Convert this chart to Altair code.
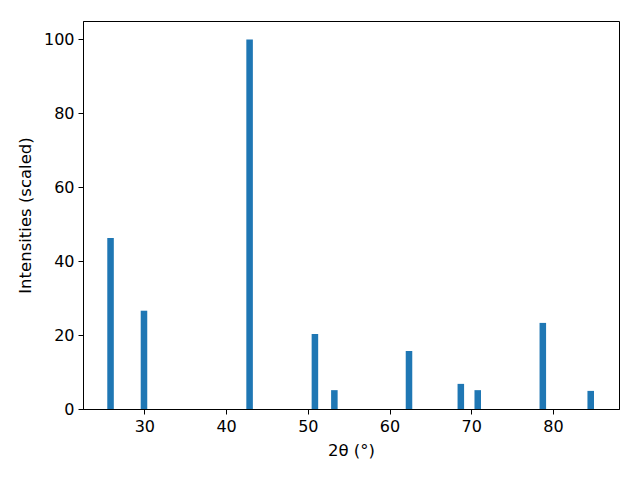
import altair as alt
import pandas as pd

two_theta = [25.87, 29.96, 42.88, 50.87, 53.25, 62.38, 68.72, 70.79, 78.75, 84.61]
intensity = [46.3, 26.6, 100.0, 20.3, 5.1, 15.7, 6.8, 5.1, 23.3, 4.9]

df = pd.DataFrame({"two_theta": two_theta, "intensity": intensity})

font = "DejaVu Sans"

chart = (
    alt.Chart(df)
    .transform_calculate(lo="datum.two_theta - 0.4", hi="datum.two_theta + 0.4")
    .mark_rect(color="#1f77b4")
    .encode(
        x=alt.X(
            "lo:Q",
            scale=alt.Scale(domain=[22.5, 88.07], nice=False, zero=False),
            axis=alt.Axis(title="2θ (°)", values=[30, 40, 50, 60, 70, 80]),
        ),
        x2="hi:Q",
        y=alt.Y(
            "intensity:Q",
            scale=alt.Scale(domain=[0, 105], nice=False),
            axis=alt.Axis(title="Intensities (scaled)", values=[0, 20, 40, 60, 80, 100]),
        ),
        y2=alt.datum(0),
    )
    .properties(
        width=536,
        height=388,
        autosize=alt.AutoSizeParams(type="none"),
        padding={"left": 75, "top": 13, "right": 13, "bottom": 63},
    )
    .configure_view(stroke="black", strokeWidth=1)
    .configure_axis(
        grid=False,
        domainColor="black",
        tickColor="black",
        tickSize=5,
        labelPadding=4,
        labelFont=font,
        labelFontSize=16,
        labelColor="black",
        titleFont=font,
        titleFontSize=16.5,
        titleFontWeight="normal",
        titleColor="black",
    )
    .configure_axisX(titlePadding=8)
    .configure_axisY(titlePadding=10)
)

chart.save("out.html", embed_options={"renderer": "svg", "actions": False})
